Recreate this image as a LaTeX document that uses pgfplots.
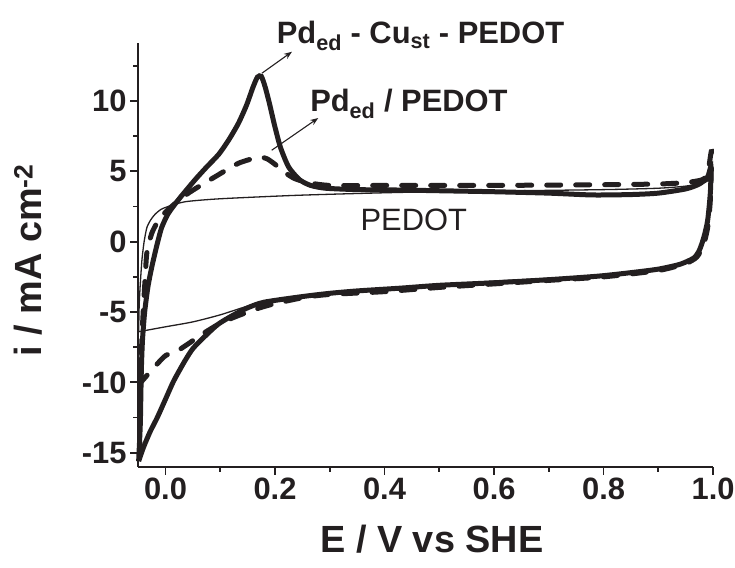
\documentclass[border=0pt]{standalone}
\usepackage{fontspec}
\setmainfont{Liberation Sans}
\usepackage{pgfplots}
\pgfplotsset{compat=1.18}
\usetikzlibrary{arrows.meta}
\definecolor{ink}{RGB}{35,31,32}
\begin{document}
\begin{tikzpicture}
\begin{axis}[
 scale only axis, width=575bp, height=423.5bp,
 xmin=-0.05, xmax=1.0, ymin=-16, ymax=14.1,
 axis x line*=bottom, axis y line*=left,
 axis line style={line width=2.4bp, -, ink},
 xtick={0,0.2,0.4,0.6,0.8,1.0}, xticklabels={0.0,0.2,0.4,0.6,0.8,1.0},
 minor xtick={0.1,0.3,0.5,0.7,0.9},
 ytick={-15,-10,-5,0,5,10}, yticklabels={-15,-10,-5,0,5,10},
 minor ytick={-12.5,-7.5,-2.5,2.5,7.5,12.5},
 tick align=outside,
 major tick length=8bp, minor tick length=5bp,
 every tick/.style={line width=1.8bp, ink},
 tick label style={font=\fontsize{31}{36}\selectfont\bfseries, text=ink},
 xlabel={E / V vs SHE}, ylabel={i / mA cm\textsuperscript{-2}},
 label style={font=\fontsize{38}{44}\selectfont\bfseries, text=ink},
 xlabel style={at={(axis description cs:0.511,-0.172)}, anchor=center},
 ylabel style={at={(axis description cs:-0.191,0.488)}, anchor=center},
 clip=false,
]
\coordinate (SW) at (axis cs:-0.05,-16);
% PEDOT (thin)
\addplot[ink, line width=1.3bp, smooth, tension=0.4] coordinates {
(-0.049,-6.4) (-0.048,-4.5) (-0.046,-3.0) (-0.043,-1.3) (-0.039,0.0) (-0.034,1.0)
(-0.027,1.55) (-0.019,1.95) (-0.008,2.3) (0.005,2.5) (0.036,2.84) (0.1,3.05)
(0.243,3.3) (0.426,3.5) (0.6,3.6) (0.8,3.7) (0.9,3.8) (0.95,3.95) (0.985,4.2) (0.995,4.35)
(0.993,2.5) (0.988,0.8) (0.98,-0.4) (0.97,-1.0) (0.95,-1.5) (0.9,-1.95) (0.8,-2.35)
(0.7,-2.6) (0.6,-2.8) (0.5,-3.05) (0.4,-3.3) (0.3,-3.65) (0.25,-3.9) (0.17,-4.36)
(0.1,-5.2) (0.05,-5.7) (0.0,-6.05) (-0.049,-6.4)
};
% Pd_ed / PEDOT (dashed)
\addplot[ink, line width=5bp, line cap=round, dash pattern=on 14bp off 15bp, smooth, tension=0.4] coordinates {
(-0.045,-10.0) (-0.044,-8.0) (-0.042,-6.0) (-0.04,-4.5) (-0.037,-2.5) (-0.034,-0.8)
(-0.025,0.6) (-0.013,1.5) (0.0,2.1) (0.018,2.73) (0.04,3.4) (0.06,3.9) (0.09,4.6)
(0.133,5.57) (0.17,6.0) (0.185,5.9) (0.2,5.5) (0.215,5.0) (0.235,4.5) (0.26,4.2)
(0.3,4.0) (0.4,4.0) (0.6,4.0) (0.8,4.05) (0.9,4.1) (0.95,4.2) (0.98,4.4) (0.99,4.8) (0.997,6.4)
(0.995,3.0) (0.99,1.0) (0.982,-0.3) (0.97,-1.1) (0.95,-1.55) (0.9,-2.05) (0.8,-2.5)
(0.7,-2.75) (0.6,-3.0) (0.5,-3.25) (0.4,-3.55) (0.3,-3.75) (0.255,-3.95) (0.2,-4.4)
(0.17,-4.73) (0.13,-5.3) (0.1,-5.8) (0.07,-6.5) (0.04,-7.3) (0.02,-7.8) (0.0,-8.1)
(-0.02,-8.9) (-0.045,-10.0)
};
% Pd_ed - Cu_st - PEDOT (thick)
\addplot[ink, line width=5bp, smooth, tension=0.4] coordinates {
(-0.049,-15.6) (-0.046,-13.0) (-0.045,-11.0) (-0.044,-9.0) (-0.042,-7.0) (-0.038,-5.0)
(-0.032,-3.2) (-0.025,-1.8) (-0.016,-0.3) (-0.007,1.0) (0.005,2.0) (0.024,3.0)
(0.054,4.4) (0.075,5.3) (0.097,6.2) (0.115,7.2) (0.133,8.4) (0.148,9.7) (0.16,11.0)
(0.168,11.7) (0.175,11.75) (0.182,11.0) (0.19,9.8) (0.199,8.3) (0.21,6.7) (0.225,5.3)
(0.245,4.4) (0.265,4.0) (0.292,3.8) (0.35,3.7) (0.43,3.67) (0.5,3.62) (0.6,3.55)
(0.7,3.45) (0.78,3.32) (0.85,3.35) (0.9,3.45) (0.95,3.75) (0.975,4.1) (0.99,4.6) (0.996,5.3)
(0.995,3.5) (0.99,1.5) (0.983,0.3) (0.975,-0.6) (0.965,-1.15) (0.94,-1.6) (0.9,-1.95)
(0.85,-2.2) (0.79,-2.45) (0.7,-2.7) (0.6,-2.92) (0.5,-3.1) (0.43,-3.3) (0.35,-3.5)
(0.3,-3.67) (0.25,-3.9) (0.18,-4.3) (0.15,-4.7) (0.12,-5.3) (0.095,-5.9) (0.07,-6.8)
(0.05,-7.6) (0.035,-8.5) (0.015,-9.9) (0.0,-11.2) (-0.015,-12.5) (-0.028,-13.5)
(-0.04,-14.6) (-0.049,-15.6)
};
% annotations
\draw[ink, line width=1.1bp, -{Stealth[length=8bp,width=6bp]}] (axis cs:0.176,11.97) -- (axis cs:0.231,13.5);
\draw[ink, line width=1.1bp, -{Stealth[length=8bp,width=6bp]}] (axis cs:0.194,6.5) -- (axis cs:0.279,8.79);
\node[anchor=base west, inner sep=0pt, text=ink, font=\fontsize{31}{36}\selectfont\bfseries]
  at (axis cs:0.203,14.1) {Pd\textsubscript{ed} - Cu\textsubscript{st} - PEDOT};
\node[anchor=base west, inner sep=0pt, text=ink, font=\fontsize{31}{36}\selectfont\bfseries]
  at (axis cs:0.264,9.24) {Pd\textsubscript{ed} / PEDOT};
\node[anchor=base west, inner sep=0pt, text=ink, font=\fontsize{31}{36}\selectfont]
  at (axis cs:0.356,0.83) {PEDOT};
\end{axis}
\pgfresetboundingbox
\path (SW) ++(-138.1bp,-101.2bp) rectangle ++(735bp,568bp);
\end{tikzpicture}
\end{document}
